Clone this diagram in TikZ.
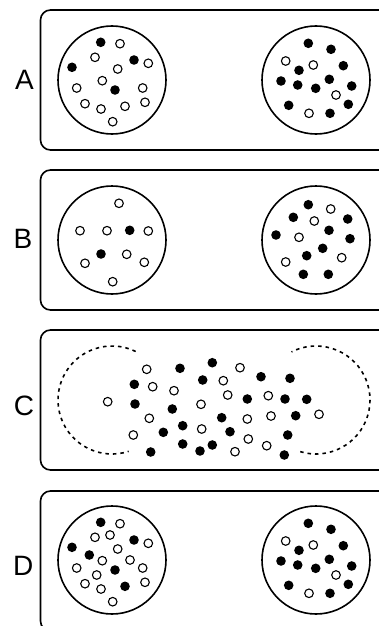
\documentclass[tikz,border=0pt]{standalone}
\usepackage{fontspec}
\setmainfont{Liberation Sans}
\usetikzlibrary{calc}
\tikzset{
  panelbox/.style={draw=black, line width=1.6pt, rounded corners=10pt},
  ring/.style={draw=black, line width=1.6pt},
  dashring/.style={draw=black, line width=1.6pt, dash pattern=on 3.5pt off 4pt},
  fdot/.style={fill=black},
  odot/.style={draw=black, line width=1.1pt, fill=white},
  lab/.style={inner sep=0pt, font=\fontsize{28}{30}\selectfont}
}
\begin{document}
\begin{tikzpicture}[x=1pt,y=-1pt]
\useasboundingbox (0,0) rectangle (378,626);
% panels
\draw[panelbox] (40.5,10) rectangle (398,150);
\draw[panelbox] (40.5,170) rectangle (398,310);
\draw[panelbox] (40.5,330) rectangle (398,470);
\draw[panelbox] (40.5,491) rectangle (398,631);
% labels
\node[lab] (la) at (24.5,80) {A};
\node[lab] (lb) at (23,239) {B};
\node[lab] (lc) at (24,406) {C};
\node[lab] (ld) at (23.3,566) {D};
% circles
\coordinate (aL) at (112,80);  \coordinate (aR) at (316,80);
\coordinate (bL) at (112,240); \coordinate (bR) at (316,240);
\coordinate (cL) at (112,400); \coordinate (cR) at (316,400);
\coordinate (dL) at (112,560); \coordinate (dR) at (316,560);
\foreach \c in {aL,aR,bL,bR,dL,dR} \draw[ring] (\c) circle[radius=54pt];
\draw[dashring] ($(cL)+(64:54pt)$) arc[start angle=64,end angle=288,radius=54pt];
\draw[dashring] ($(cR)+(-107:54pt)$) arc[start angle=-107,end angle=117,radius=54pt];
% dot radius
\def\r{4.8pt}
% A and D (shifted) common dots
\foreach \yy in {0,480}{
  \foreach \x/\y in {100.7/42.3,134/60,72/67.3,115/90}
    \fill[fdot] (\x,{\y+\yy}) circle[radius=\r];
  \foreach \x/\y in {120/43.7,95/57.3,148.3/63.3,117.7/69,102.3/80.7,76.7/88,142.7/88,85/103.7,101/109,145/102.3,112.7/121.7}
    \draw[odot] (\x,{\y+\yy}) circle[radius=4.3pt];
  \foreach \x/\y in {308.3/43.3,331/49.3,299/70.3,343.3/65.7,281/81,297.7/85,329.3/79.3,315.7/88.3,351.7/86,288.7/105.3,330/113.3,348.3/104.3}
    \fill[fdot] (\x,{\y+\yy}) circle[radius=\r];
  \foreach \x/\y in {285.7/61,313.3/65,336/95,309/113.3}
    \draw[odot] (\x,{\y+\yy}) circle[radius=4.3pt];
}
% A only
\draw[odot] (125,106.3) circle[radius=4.3pt];
% D only
\foreach \x/\y in {89.3/555,125/586.3}
  \fill[fdot] (\x,\y) circle[radius=\r];
\foreach \x/\y in {110/535,130/560,96.7/575}
  \draw[odot] (\x,\y) circle[radius=4.3pt];
% B
\foreach \x/\y in {129.7/230.3,101/254,308.3/204.7,293.3/217.3,347.7/219,329/230.3,276/235,350/238.7,322.7/248.3,306.7/255.7,303.3/274.3,328.3/274.3}
  \fill[fdot] (\x,\y) circle[radius=\r];
\foreach \x/\y in {119/203.3,80/230.7,107/230.7,148.3/231,126.7/254.3,85/263.3,144.3/262.3,112.7/281.7,330.7/209,314.3/221,299/237.3,285.7/262,341.7/257.7}
  \draw[odot] (\x,\y) circle[radius=4.3pt];
% C
\foreach \x/\y in {180/368.3,212.3/362.7,202.7/380,261/376.7,290/378.3,134.3/384.3,247.3/399,285/399,306.7/399.3,135/404,172.3/409,221.7/417.7,295.7/415.7,182.7/425.7,163.3/432.3,230/431.7,287.7/435,182.7/444,212.3/445,200/451,150.7/452,284.3/455}
  \fill[fdot] (\x,\y) circle[radius=\r];
\foreach \x/\y in {146.7/369.3,240/367.7,223.3/380.7,152.7/386.7,174/390.7,227.7/395,268.3/395.7,107.7/401.7,201/404.3,247.3/419,271/416,319/414.3,149.3/418.3,201.7/429,133.3/435,248.3/439,266.7/445.7,235/451.7}
  \draw[odot] (\x,\y) circle[radius=4.3pt];
\end{tikzpicture}
\end{document}
